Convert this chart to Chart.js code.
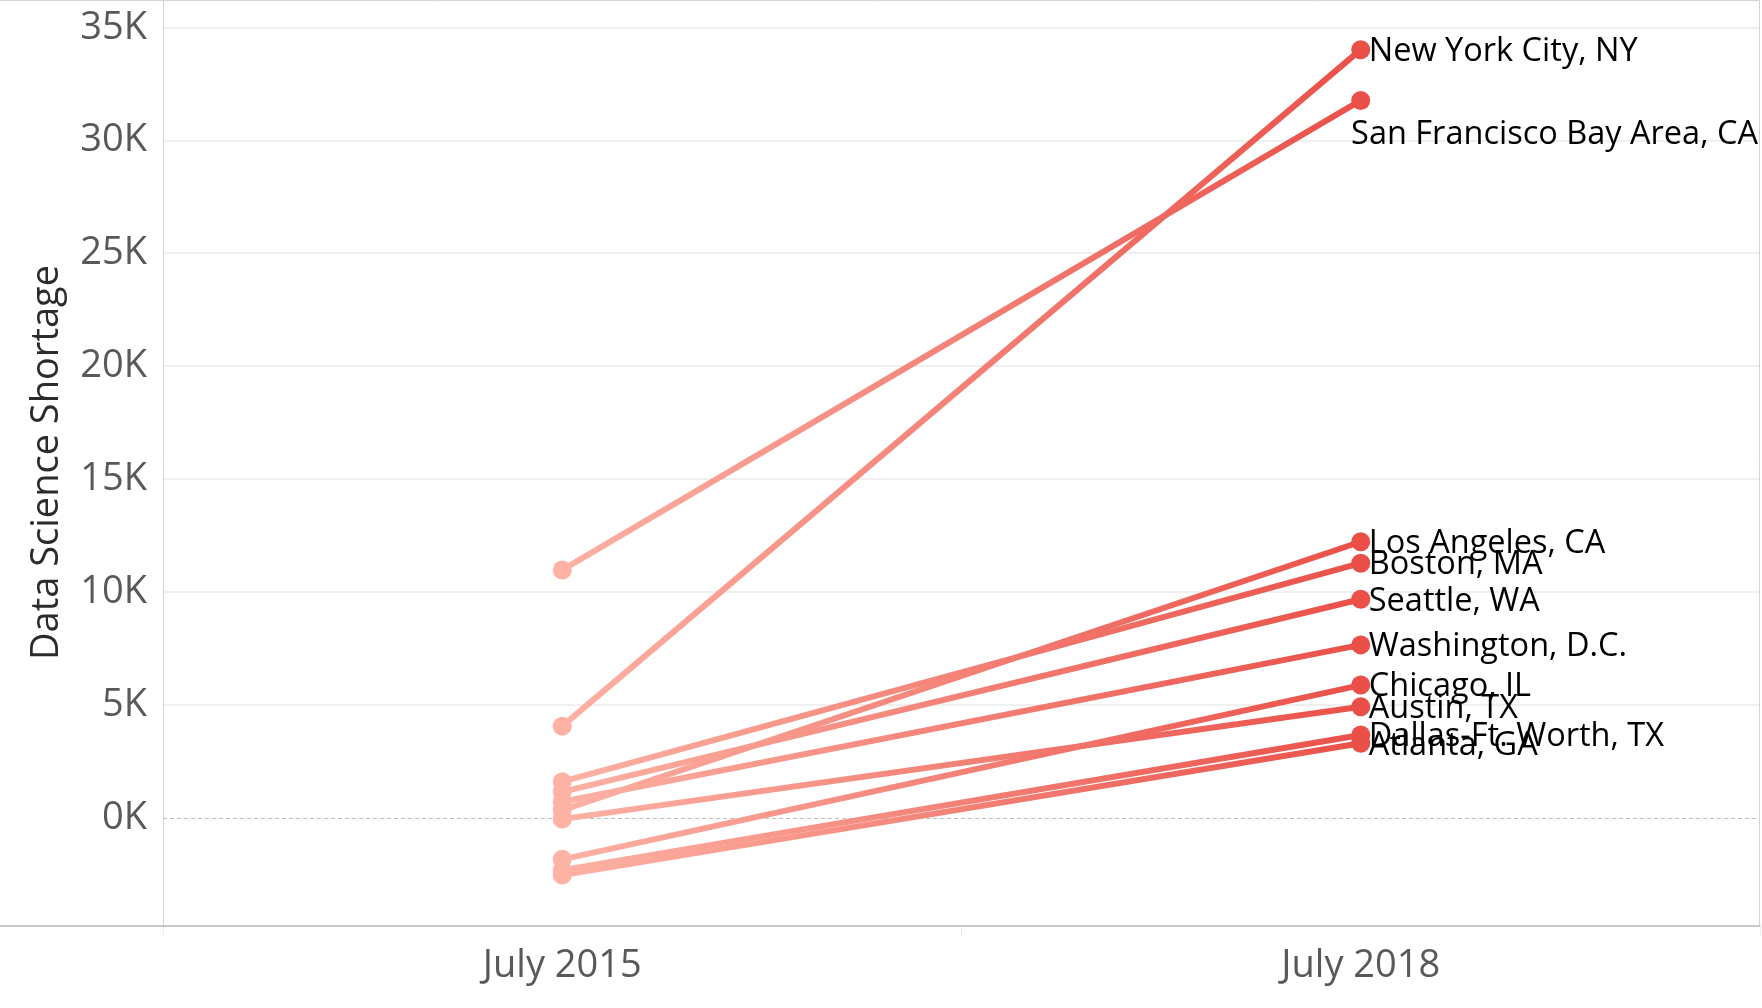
<!DOCTYPE html>
<html>
<head>
<meta charset="utf-8">
<script src="https://cdn.jsdelivr.net/npm/chart.js@4/dist/chart.umd.min.js"></script>
<style>
  html, body { margin: 0; padding: 0; background: #fff; }
  #wrap { width: 1762px; height: 1008px; }
</style>
</head>
<body>
<div id="wrap"><canvas id="chart"></canvas></div>
<script>
/* ── data ── */
const periods = ['July 2015', 'July 2018'];
const cities = [
  'New York City, NY', 'San Francisco Bay Area, CA', 'Los Angeles, CA', 'Boston, MA',
  'Seattle, WA', 'Washington, D.C.', 'Chicago, IL', 'Austin, TX',
  'Dallas-Ft. Worth, TX', 'Atlanta, GA'
];
const shortage2015 = [4060, 10980, 340, 1600, 1150, 710, -1840, -60, -2320, -2540];
const shortage2018 = [34030, 31780, 12230, 11280, 9680, 7660, 5880, 4920, 3670, 3300];
const yTicks = [0, 5000, 10000, 15000, 20000, 25000, 30000, 35000];

const LIGHT = '#fdb2a4';
const DARK = '#ea5048';

/* ── line gradient from 2015 to 2018 ── */
function lineGradient(ctx) {
  const chart = ctx.chart;
  const x = chart.scales.x;
  if (!x || !chart.chartArea) return LIGHT;
  const x0 = x.getPixelForValue(0), x1 = x.getPixelForValue(1);
  const g = chart.ctx.createLinearGradient(x0, 0, x1, 0);
  g.addColorStop(0, LIGHT);
  g.addColorStop(1, DARK);
  return g;
}

/* ── plugins: frame, dashed zero line, end labels ── */
const framePlugin = {
  id: 'frame',
  beforeDatasetsDraw(chart) {
    const { ctx, chartArea: a, scales: { y } } = chart;
    ctx.save();
    const y0 = Math.round(y.getPixelForValue(0)) + 0.5;
    ctx.strokeStyle = '#bdbdbd';
    ctx.lineWidth = 1;
    ctx.setLineDash([4, 3]);
    ctx.beginPath();
    ctx.moveTo(a.left, y0);
    ctx.lineTo(a.right, y0);
    ctx.stroke();
    ctx.setLineDash([]);
    ctx.strokeStyle = '#d4d4d4';
    ctx.beginPath();
    ctx.moveTo(a.left + 0.5, a.bottom);
    ctx.lineTo(a.left + 0.5, a.top);
    ctx.moveTo(0, 0.5);
    ctx.lineTo(a.right - 0.5, 0.5);
    ctx.lineTo(a.right - 0.5, a.bottom);
    ctx.stroke();
    ctx.strokeStyle = '#c8c8c8';
    ctx.lineWidth = 2;
    ctx.beginPath();
    ctx.moveTo(0, a.bottom + 1);
    ctx.lineTo(a.right, a.bottom + 1);
    ctx.stroke();
    ctx.restore();
  }
};

const endLabels = {
  id: 'endLabels',
  afterDatasetsDraw(chart) {
    const { ctx } = chart;
    ctx.save();
    ctx.font = '32.5px "Open Sans"';
    ctx.fillStyle = '#000';
    ctx.textBaseline = 'middle';
    chart.data.datasets.forEach((ds, i) => {
      const pt = chart.getDatasetMeta(i).data[1];
      const w = ctx.measureText(ds.label).width;
      let tx = pt.x + 8, ty = pt.y + 2;
      if (tx + w > chart.width - 4) {
        tx = chart.width - 4 - w;
        ty += 32;
      }
      ctx.fillText(ds.label, tx, ty);
    });
    ctx.restore();
  }
};

function noPad(s) {
  s.paddingTop = 0; s.paddingBottom = 0; s.paddingLeft = 0; s.paddingRight = 0;
}

/* ── chart ── */
new Chart(document.getElementById('chart'), {
  type: 'line',
  data: {
    labels: periods,
    datasets: cities.map((c, i) => ({
      label: c,
      data: [shortage2015[i], shortage2018[i]],
      borderColor: lineGradient,
      borderWidth: 6,
      pointRadius: 9.5,
      pointBorderWidth: 0,
      pointBackgroundColor: [LIGHT, DARK],
      tension: 0,
    }))
  },
  options: {
    responsive: true,
    maintainAspectRatio: false,
    animation: false,
    layout: { autoPadding: false, padding: { top: 0, right: 2, left: 0, bottom: 0 } },
    plugins: {
      legend: { display: false },
      tooltip: { enabled: false }
    },
    scales: {
      x: {
        offset: true,
        grid: { offset: true, drawOnChartArea: false, drawTicks: true, tickLength: 12, tickColor: '#ececec' },
        border: { display: false },
        ticks: { color: '#595959', font: { family: 'Open Sans', size: 38 }, padding: 6, maxRotation: 0 },
        afterFit: s => { s.height = 83; noPad(s); }
      },
      y: {
        min: -4750,
        max: 36230,
        afterBuildTicks: s => { s.ticks = yTicks.map(v => ({ value: v })); },
        grid: { color: ctx => ctx.tick && ctx.tick.value === 0 ? 'rgba(0,0,0,0)' : '#f0f0f0', lineWidth: 2, drawTicks: false },
        border: { display: false },
        ticks: {
          color: '#595959',
          font: { family: 'Open Sans', size: 38 },
          padding: 16,
          callback: v => (v / 1000) + 'K'
        },
        title: {
          display: true,
          text: 'Data Science Shortage',
          color: '#2b2b2b',
          font: { family: 'Open Sans', size: 38 },
          padding: { top: 24, bottom: 0 }
        },
        afterFit: s => { s.width = 163; noPad(s); }
      }
    }
  },
  plugins: [framePlugin, endLabels]
});
</script>
</body>
</html>
